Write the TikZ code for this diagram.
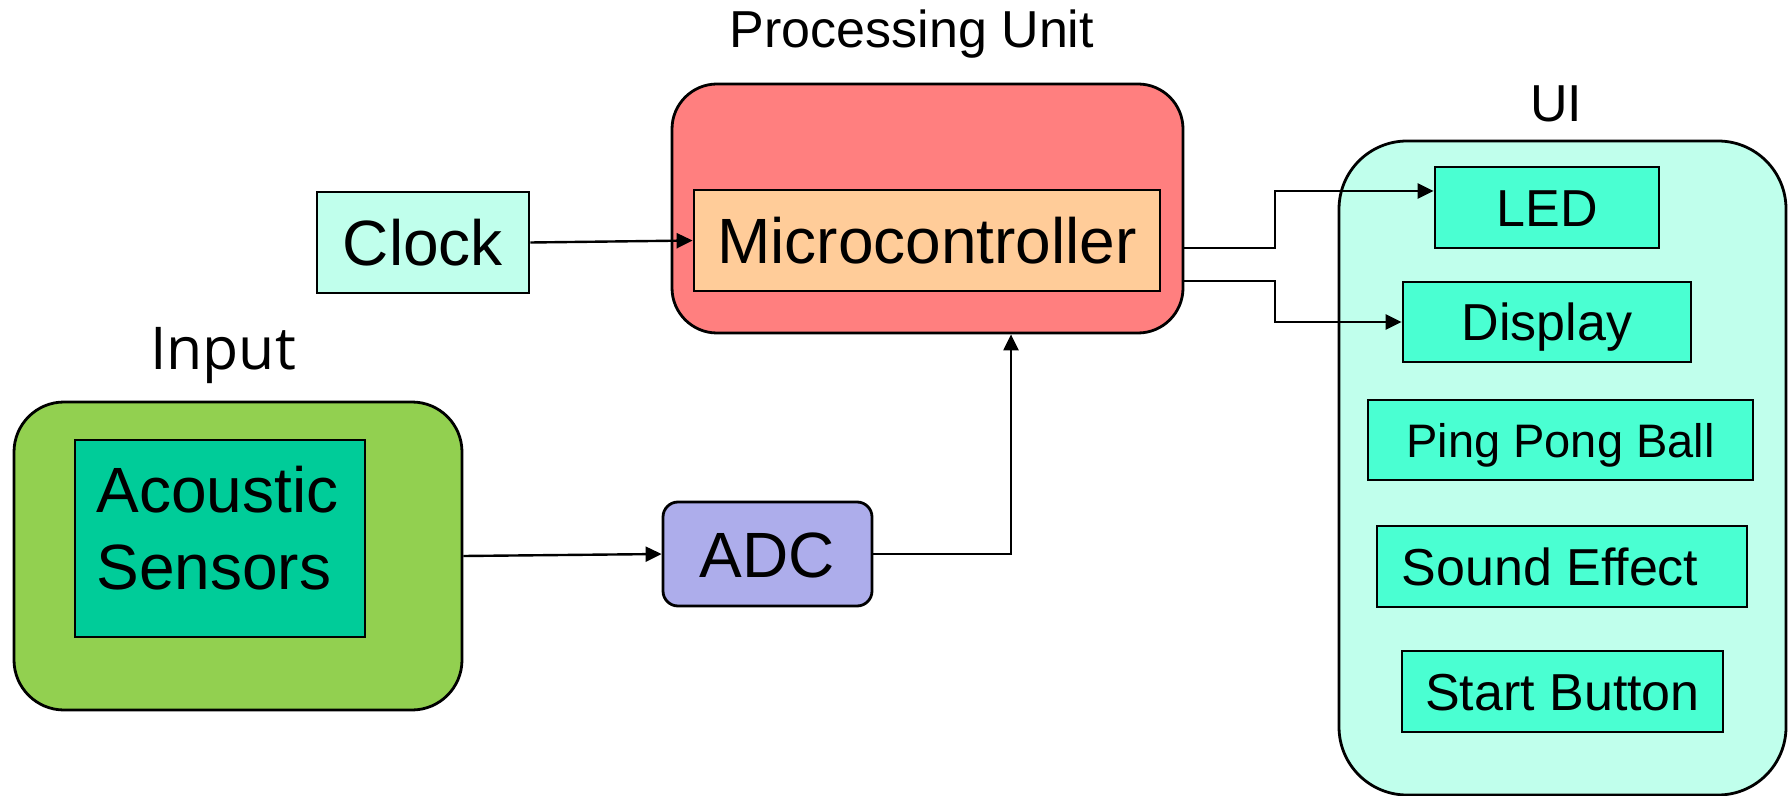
\documentclass[tikz,border=0pt]{standalone}
\usepackage{fontspec}
\setmainfont{Liberation Sans}
\newfontfamily\inputfont{Open Sans}
\usetikzlibrary{arrows.meta}
\definecolor{puRed}{HTML}{FF7F7F}
\definecolor{microOrange}{HTML}{FFCC99}
\definecolor{mint}{HTML}{C0FFEC}
\definecolor{inGreen}{HTML}{92D050}
\definecolor{acoust}{HTML}{00CC99}
\definecolor{adcBlue}{HTML}{ADADEB}
\definecolor{uiItem}{HTML}{4AFFD2}
\begin{document}
\begin{tikzpicture}[x=0.5pt,y=-0.5pt,
  grp/.style={draw, line width=1.4pt, inner sep=0pt},
  blk/.style={draw, line width=1.4pt, inner sep=0pt, text depth=0pt},
  bigtext/.style={font=\fontsize{32}{38.5}\selectfont, text height=23pt},
  midtext/.style={font=\fontsize{26}{31}\selectfont, text height=18.7pt},
  smalltext/.style={font=\fontsize{23.5}{28}\selectfont, text height=17pt},
  conn/.style={line width=1.2pt, -{Triangle[length=8pt,width=7.5pt]}}]
\useasboundingbox (0,0) rectangle (1791,796);

% Processing unit
\node[grp, fill=puRed, rounded corners=22.5pt, minimum width=255.5pt, minimum height=124.5pt] (pu) at (927.5,208.5) {};
\node[blk, bigtext, fill=microOrange, minimum width=233pt, minimum height=50.5pt] (micro) at (927,240.5) {Microcontroller};
\node[font=\fontsize{26}{31}\selectfont, anchor=base, inner sep=0pt] (pulabel) at (912,48) {Processing Unit};

% Clock
\node[blk, bigtext, fill=mint, minimum width=106pt, minimum height=50.5pt] (clock) at (423,242.5) {Clock};

% Input
\node[grp, fill=inGreen, rounded corners=25pt, minimum width=224pt, minimum height=154pt] (inbox) at (238,556) {};
\node[grp, fill=acoust, minimum width=145pt, minimum height=98.5pt] (acoustic) at (220,538.5) {};
\node[font=\fontsize{32}{38.5}\selectfont, align=left, anchor=north west, inner sep=0pt] (acoustictext) at (96,466) {Acoustic\\Sensors};
\node[font=\inputfont\fontsize{29.5}{35}\selectfont, anchor=base, inner sep=0pt] (inlabel) at (223,369) {Input};

% ADC
\node[blk, bigtext, fill=adcBlue, rounded corners=7.5pt, minimum width=104.5pt, minimum height=52pt] (adc) at (767.5,554) {ADC};

% UI
\node[grp, fill=mint, rounded corners=34pt, minimum width=223.5pt, minimum height=327pt] (ui) at (1562.5,468) {};
\node[font=\fontsize{26}{31}\selectfont, anchor=base, inner sep=0pt] (uilabel) at (1556,122) {UI};
\node[blk, midtext, fill=uiItem, minimum width=112pt, minimum height=40.5pt] (led) at (1547,207.5) {LED};
\node[blk, midtext, fill=uiItem, minimum width=144pt, minimum height=40pt] (display) at (1547,322) {Display};
\node[blk, smalltext, fill=uiItem, minimum width=192.5pt, minimum height=40pt] (ping) at (1560.5,440) {Ping Pong Ball};
\node[blk, midtext, fill=uiItem, minimum width=185pt, minimum height=40.5pt] (sound) at (1562,566.5) {Sound Effect\hspace*{12pt}};
\node[blk, midtext, fill=uiItem, minimum width=160.5pt, minimum height=40.5pt] (start) at (1562.5,691.5) {Start Button};

% connectors
\draw[conn] (clock.east) -- (micro.west);
\draw[conn] (inbox.east) -- (adc.west);
\coordinate (upx) at (1011,0);
\draw[conn] (adc.east) -| (upx |- pu.south);
\coordinate (bend) at (1275,0);
\coordinate (ledin) at ([yshift=8.25pt]led.west);
\draw[conn] ([yshift=-19.75pt]pu.east) -| (bend |- ledin) -- (ledin);
\draw[conn] ([yshift=-36.25pt]pu.east) -| (bend |- display.west) -- (display.west);
\end{tikzpicture}
\end{document}
